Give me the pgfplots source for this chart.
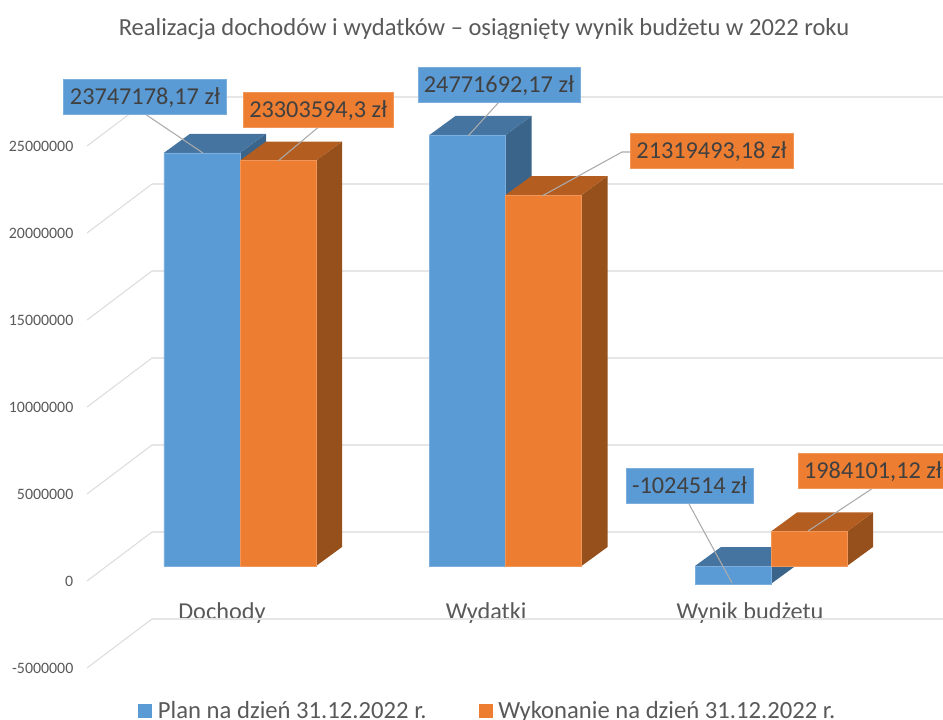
\documentclass[border=0pt]{standalone}
\usepackage{pgfplots}
\pgfplotsset{compat=1.18}
\usepackage{fontspec}
\setmainfont{Carlito}

\definecolor{planblue}{HTML}{5B9BD5}
\definecolor{plantop}{HTML}{44749F}
\definecolor{planside}{HTML}{3A6489}
\definecolor{execorange}{HTML}{ED7D31}
\definecolor{exectop}{HTML}{B35D20}
\definecolor{execside}{HTML}{96501B}
\definecolor{axistext}{HTML}{595959}
\definecolor{labeltext}{HTML}{404040}
\definecolor{wallgrid}{HTML}{E6E6E6}
\definecolor{sidegrid}{HTML}{DDDDDD}
\definecolor{leader}{HTML}{ABABAB}

\pgfplotsset{
  common/.style={
    at={(0,0)}, anchor=south west,
    scale only axis, width=648.75pt, height=539.25pt,
    xmin=-0.6102, xmax=2.6478,
    clip=false,
  },
  face/.style={draw=none, forget plot, fill=#1},
  front/.style={
    ybar, bar width=0.2863, fill=#1, draw=#1!80!white, line width=0.4pt,
    legend image code/.code={
      \path[draw=none, fill=none] (0pt,0pt) -- (12.75pt,0pt);
      \path[draw=none, fill=#1] (0pt,-5.25pt) rectangle (10.5pt,5.25pt);},
  },
  lead/.style={leader, line width=0.8pt, forget plot, no marks},
}
\tikzset{
  lab/.style={fill=#1, draw=#1!80!white, line width=0.4pt, inner sep=0pt,
    minimum height=26.2pt, text height=11.6pt, text depth=0pt, text=labeltext,
    font=\fontsize{18.2}{20}\selectfont},
}

\begin{document}
\begin{tikzpicture}
\path[use as bounding box] (-58.5pt,0pt) rectangle (648.75pt,539.25pt);

% wall, ticks, category names: front plane, 0 at the tick label
\begin{axis}[common,
  ymin=-7931000, ymax=33391000,
  ytick={-5000000,0,5000000,10000000,15000000,20000000,25000000},
  scaled y ticks=false,
  xtick={-0.068,0.927,1.921},
  xticklabels={Dochody,Wydatki,Wynik budżetu},
  axis line style={draw=none},
  tick style={draw=none},
  xticklabel style={anchor=center, yshift=79.5pt, text=axistext,
    font=\fontsize{18.2}{20}\selectfont},
  yticklabel style={text=axistext, font=\fontsize{11.9}{14}\selectfont,
    /pgf/number format/fixed, /pgf/number format/1000 sep={},
    /pgf/number format/assume math mode=true},
  title={Realizacja dochodów i wydatków – osiągnięty wynik budżetu w 2022 roku},
  title style={at={(0.4694,0.9486)}, anchor=center, text=axistext,
    font=\fontsize{18.4}{20}\selectfont},
]
\addplot[sidegrid, line width=0.8pt, no marks, unbounded coords=jump] coordinates {
  (-0.5763,-5000000) (-0.3315,-2183908) (-0.3315,nan)
  (-0.5763,0) (-0.3315,2816092) (-0.3315,nan)
  (-0.5763,5000000) (-0.3315,7816092) (-0.3315,nan)
  (-0.5763,10000000) (-0.3315,12816092) (-0.3315,nan)
  (-0.5763,15000000) (-0.3315,17816092) (-0.3315,nan)
  (-0.5763,20000000) (-0.3315,22816092) (-0.3315,nan)
  (-0.5763,25000000) (-0.3315,27816092)
};
\addplot[wallgrid, line width=1.5pt, no marks, unbounded coords=jump] coordinates {
  (-0.3315,-2183908) (2.6478,-2183908) (2.6478,nan)
  (-0.3315,2816092) (2.6478,2816092) (2.6478,nan)
  (-0.3315,7816092) (2.6478,7816092) (2.6478,nan)
  (-0.3315,12816092) (2.6478,12816092) (2.6478,nan)
  (-0.3315,17816092) (2.6478,17816092) (2.6478,nan)
  (-0.3315,22816092) (2.6478,22816092) (2.6478,nan)
  (-0.3315,27816092) (2.6478,27816092)
};
\end{axis}

% bars: their base sits higher up, 0 at the bottom edge of the front faces
\begin{axis}[common,
  hide axis,
  ymin=-8793000, ymax=32529000,
  legend columns=2,
  legend cell align=left,
  legend style={at={(0.0648,0.0327)}, anchor=north west, draw=none, fill=none,
    text=axistext, font=\fontsize{18.5}{20}\selectfont,
    /tikz/every even column/.append style={column sep=37pt}},
]
% plan, sides and tops
\addplot[face=planside] coordinates {(0,23747178) (0.0979,24839178) (0.0979,1092000) (0,0)} -- cycle;
\addplot[face=plantop] coordinates {(-0.2863,23747178) (-0.1884,24839178) (0.0979,24839178) (0,23747178)} -- cycle;
\addplot[face=planside] coordinates {(1,24771692) (1.0979,25863692) (1.0979,1092000) (1,0)} -- cycle;
\addplot[face=plantop] coordinates {(0.7137,24771692) (0.8116,25863692) (1.0979,25863692) (1,24771692)} -- cycle;
\addplot[face=planside] coordinates {(2,0) (2.0979,1092000) (2.0979,67486) (2,-1024514)} -- cycle;
\addplot[face=plantop] coordinates {(1.7137,0) (1.8116,1092000) (2.0979,1092000) (2,0)} -- cycle;
% plan, front
\addplot[front=planblue, bar shift=-0.14315] coordinates {(0,23747178.17) (1,24771692.17) (2,-1024514)};
\addlegendentry{Plan na dzień 31.12.2022 r.}
% execution, sides and tops
\addplot[face=execside] coordinates {(0.2863,23303594) (0.3842,24395594) (0.3842,1092000) (0.2863,0)} -- cycle;
\addplot[face=exectop] coordinates {(0,23303594) (0.0979,24395594) (0.3842,24395594) (0.2863,23303594)} -- cycle;
\addplot[face=execside] coordinates {(1.2863,21319493) (1.3842,22411493) (1.3842,1092000) (1.2863,0)} -- cycle;
\addplot[face=exectop] coordinates {(1,21319493) (1.0979,22411493) (1.3842,22411493) (1.2863,21319493)} -- cycle;
\addplot[face=execside] coordinates {(2.2863,1984101) (2.3842,3076101) (2.3842,1092000) (2.2863,0)} -- cycle;
\addplot[face=exectop] coordinates {(2,1984101) (2.0979,3076101) (2.3842,3076101) (2.2863,1984101)} -- cycle;
% execution, front
\addplot[front=execorange, bar shift=0.14315] coordinates {(0,23303594.3) (1,21319493.18) (2,1984101.12)};
\addlegendentry{Wykonanie na dzień 31.12.2022 r.}
% leader lines
\addplot[lead] coordinates {(-0.3578,25977000) (-0.1394,23736000)};
\addplot[lead] coordinates {(0.2938,25201000) (0.1431,23276000)};
\addplot[lead] coordinates {(0.9755,26667000) (0.8588,24713000)};
\addplot[lead] coordinates {(1.4689,23793000) (1.4388,23793000) (1.1375,21264000)};
\addplot[lead] coordinates {(1.6911,3563000) (1.8531,-977000)};
\addplot[lead] coordinates {(2.3842,4483000) (2.1394,2011000)};
% data labels
\node[lab=planblue, minimum width=122pt] at (axis cs:-0.3578,26983000) {23747178,17 zł};
\node[lab=execorange, minimum width=112pt] at (axis cs:0.2947,26207000) {23303594,3 zł};
\node[lab=planblue, minimum width=121.5pt] at (axis cs:0.9755,27672000) {24771692,17 zł};
\node[lab=execorange, minimum width=122pt] at (axis cs:1.7759,23851000) {21319493,18 zł};
\node[lab=planblue, minimum width=95.25pt] at (axis cs:1.6930,4598000) {-1024514 zł};
\node[lab=execorange, minimum width=112.5pt] at (axis cs:2.3842,5489000) {1984101,12 zł};
\end{axis}
\end{tikzpicture}
\end{document}
